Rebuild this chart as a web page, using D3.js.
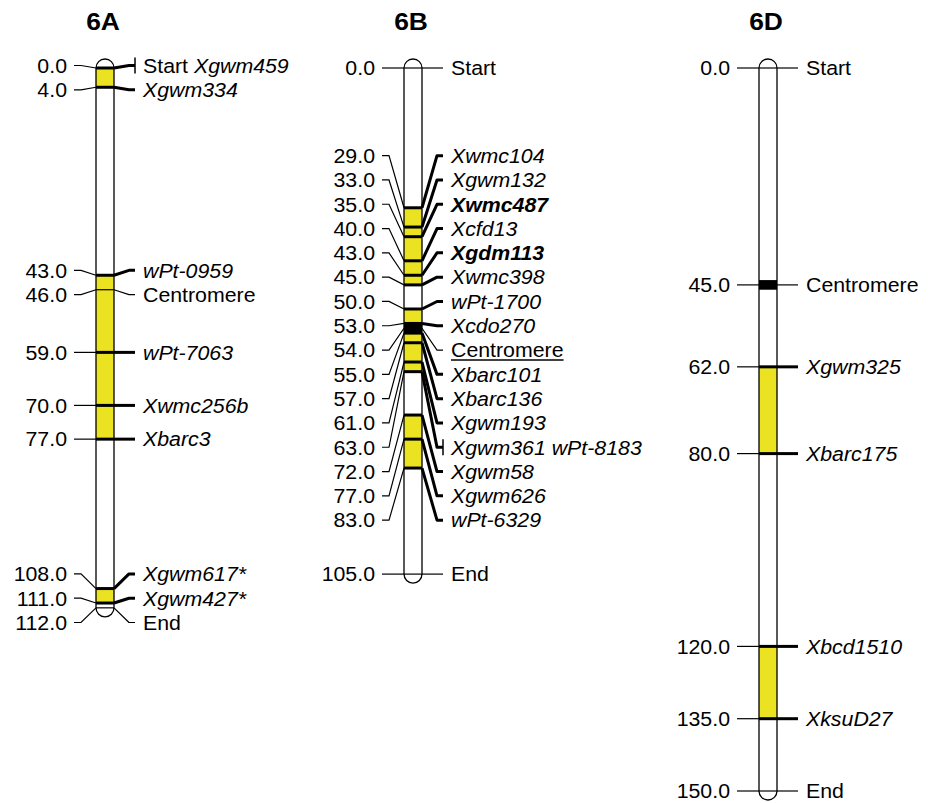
<!DOCTYPE html>
<html>
<head>
<meta charset="utf-8">
<script src="https://cdn.jsdelivr.net/npm/d3@7"></script>
<style>
  body { margin: 0; background: #fff; }
  text { font-family: "Liberation Sans", Arial, Helvetica, sans-serif; fill: #000; }
</style>
</head>
<body>
<svg id="map" width="933" height="803"></svg>
<script>
// ===== Data =====
const chromosomes = ["6A", "6B", "6D"];

// [position cM, label]
const markers6A = [
  [0, "Start"], [0, "Xgwm459"], [4, "Xgwm334"], [43, "wPt-0959"], [46, "Centromere"],
  [59, "wPt-7063"], [70, "Xwmc256b"], [77, "Xbarc3"], [108, "Xgwm617*"],
  [111, "Xgwm427*"], [112, "End"]
];
const markers6B = [
  [0, "Start"], [29, "Xwmc104"], [33, "Xgwm132"], [35, "Xwmc487"], [40, "Xcfd13"],
  [43, "Xgdm113"], [45, "Xwmc398"], [50, "wPt-1700"], [53, "Xcdo270"], [54, "Centromere"],
  [55, "Xbarc101"], [57, "Xbarc136"], [61, "Xgwm193"], [63, "Xgwm361"], [63, "wPt-8183"],
  [72, "Xgwm58"], [77, "Xgwm626"], [83, "wPt-6329"], [105, "End"]
];
const markers6D = [
  [0, "Start"], [45, "Centromere"], [62, "Xgwm325"], [80, "Xbarc175"],
  [120, "Xbcd1510"], [135, "XksuD27"], [150, "End"]
];

// highlighted (yellow) intervals
const qtl6A = [[0, 4], [43, 77], [108, 111]];
const qtl6B = [[29, 45], [50, 63], [72, 83]];
const qtl6D = [[62, 80], [120, 135]];

// centromere drawn as black band (null = not drawn)
const centromereBands = [null, 54, 45];

const boldMarkers = ["Xwmc487", "Xgdm113"];
const underlinedChrom = ["6B"];
const plainLabels = ["Start", "End", "Centromere"];

// ===== Layout =====
const chromX = [105, 413, 768];
const chromW = 18;
const SX = 1.04;
const FS = 20.5;
const labelStep = 24.3;
const yellow = "#ebe221";

const svg = d3.select("#map");
svg.append("rect").attr("width", 933).attr("height", 803).attr("fill", "#fff");

const y = d3.scaleLinear().domain([0, 150]).range([68, 791]);

// ===== Utils =====
function spread(targets, s) {
  let clusters = targets.map((t, i) => ({ lo: t, hi: t, idx: [i] }));
  const first = c => (c.lo + c.hi) / 2 - (c.idx.length - 1) / 2 * s;
  let changed = true;
  while (changed) {
    changed = false;
    for (let i = 0; i < clusters.length - 1; i++) {
      const a = clusters[i], b = clusters[i + 1];
      if (first(a) + (a.idx.length - 1) * s + s > first(b)) {
        clusters.splice(i, 2, { lo: a.lo, hi: b.hi, idx: a.idx.concat(b.idx) });
        changed = true;
        break;
      }
    }
  }
  const out = [];
  clusters.forEach(c => c.idx.forEach((i, k) => { out[i] = first(c) + k * s; }));
  return out;
}

function addText(x, yy, anchor, parts, size, weight, sx) {
  const t = svg.append("text")
    .attr("transform", `translate(${x},${yy}) scale(${sx || SX},1)`)
    .attr("text-anchor", anchor)
    .style("font-size", (size || FS) + "px")
    .style("font-weight", weight || "normal");
  parts.forEach((p, i) => {
    t.append("tspan")
      .text((i > 0 ? "\u00a0" : "") + p.text)
      .style("font-style", p.italic ? "italic" : "normal")
      .style("font-weight", p.bold ? "bold" : (weight || "normal"));
  });
  return t;
}

// ===== Draw =====
const allMarkers = [markers6A, markers6B, markers6D];
const allQtl = [qtl6A, qtl6B, qtl6D];

chromosomes.forEach((name, ci) => {
  const cx = chromX[ci];
  const L = cx - chromW / 2, R = cx + chromW / 2, r = chromW / 2;
  const markers = allMarkers[ci];

  // group markers at the same position
  const groups = d3.groups(markers, d => d[0]).sort((a, b) => a[0] - b[0]);
  const targets = groups.map(g => y(g[0]));
  const labelY = spread(targets, labelStep);

  const y0 = y(0), y1 = y(d3.max(markers, d => d[0]));

  // title
  addText(cx - 2, 30, "middle", [{ text: name }], 24, "bold", 1.1);

  // chromosome body
  const body = `M${L},${y0} A${r},${r} 0 0 1 ${R},${y0} L${R},${y1} A${r},${r} 0 0 1 ${L},${y1} Z`;
  svg.append("path").attr("d", body).attr("fill", "#fff");

  svg.selectAll(null)
    .data(allQtl[ci])
    .enter()
    .append("rect")
    .attr("x", L).attr("width", chromW)
    .attr("y", d => y(d[0]))
    .attr("height", d => y(d[1]) - y(d[0]))
    .attr("fill", yellow);

  if (centromereBands[ci] !== null) {
    const c = centromereBands[ci];
    svg.append("rect")
      .attr("x", L).attr("width", chromW)
      .attr("y", y(c - 1)).attr("height", y(c + 1) - y(c - 1))
      .attr("fill", "#000");
  }

  groups.forEach((g, gi) => {
    const pos = g[0];
    const items = g[1];
    const my = targets[gi], ly = labelY[gi];
    const thick = items.some(d => !plainLabels.includes(d[1]));
    const sw = thick ? 3 : 1.2;

    // line across chromosome
    svg.append("line")
      .attr("x1", L).attr("x2", R).attr("y1", my).attr("y2", my)
      .attr("stroke", "#000").attr("stroke-width", sw);

    // left connector
    svg.append("polyline")
      .attr("points", [[L - 22, ly], [L - 15, ly], [L, my]].join(" "))
      .attr("fill", "none").attr("stroke", "#000").attr("stroke-width", 1.2);

    // right connector
    svg.append("polyline")
      .attr("points", [[R, my], [R + 15, ly], [R + 21, ly]].join(" "))
      .attr("fill", "none").attr("stroke", "#000").attr("stroke-width", sw)
      .attr("stroke-linejoin", "round");

    if (items.length > 1) {
      svg.append("line")
        .attr("x1", R + 21).attr("x2", R + 21)
        .attr("y1", ly - 8).attr("y2", ly + 8)
        .attr("stroke", "#000").attr("stroke-width", 1.5);
    }

    // left value
    addText(L - 29, ly + 7.3, "end", [{ text: pos.toFixed(1) }]);

    // right label
    const parts = items.map(d => ({
      text: d[1],
      italic: !plainLabels.includes(d[1]),
      bold: boldMarkers.includes(d[1])
    }));
    const t = addText(R + 29, ly + 7.3, "start", parts);

    if (items[0][1] === "Centromere" && underlinedChrom.includes(name)) {
      const w = t.node().getComputedTextLength() * SX;
      svg.append("line")
        .attr("x1", R + 29).attr("x2", R + 29 + w)
        .attr("y1", ly + 10).attr("y2", ly + 10)
        .attr("stroke", "#000").attr("stroke-width", 1.5);
    }
  });

  // outline on top
  svg.append("path").attr("d", body)
    .attr("fill", "none").attr("stroke", "#000").attr("stroke-width", 1.3);
});
</script>
</body>
</html>
